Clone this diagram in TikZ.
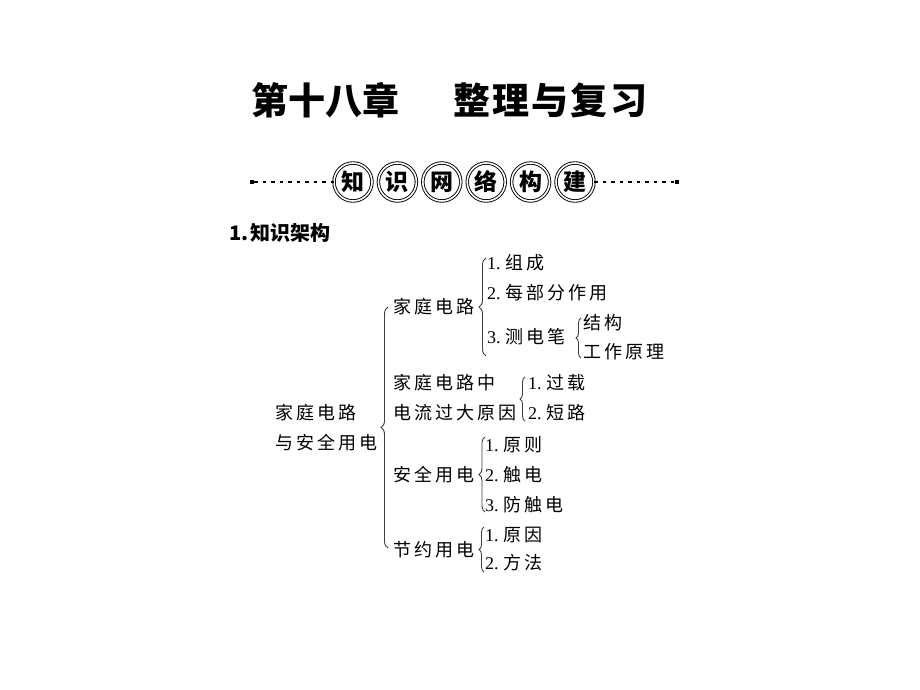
\documentclass[tikz,border=0pt]{standalone}
\usepackage{fontspec}
\setmainfont{Liberation Serif}
\newfontfamily\cjk{Noto Sans CJK SC}
\newfontfamily\cjksp[LetterSpace=17]{Noto Sans CJK SC}
\newfontfamily\cjkti[LetterSpace=6]{Noto Sans CJK SC}
\usetikzlibrary{decorations.pathreplacing}
\newcommand\itm[2]{{\rmfamily #1.}\hspace{5pt}{\cjksp #2}}
\tikzset{
  txt/.style={anchor=base west, inner sep=0pt, font=\fontsize{18}{20}\selectfont\cjksp},
  brc/.style={decorate, decoration={brace, amplitude=#1}, line width=0.9pt, draw=black!75},
  brc/.default=6pt,
  ring/.style={circle, minimum size=38pt, inner sep=0pt, draw, line width=0.9pt,
    double, double distance=1.6pt, font=\fontsize{23}{25}\selectfont\cjk\bfseries},
  endsq/.style={fill, minimum size=4.5pt, inner sep=0pt},
  dashln/.style={dash pattern=on 3.5pt off 5pt, line width=1.8pt},
  titletxt/.style={anchor=base west, inner sep=0pt, font=\fontsize{37}{40}\selectfont\cjk\bfseries},
}
\begin{document}
\begin{tikzpicture}[x=1pt,y=-1pt]
\fill[white] (0,0) rectangle (920,690);
\useasboundingbox (0,0) rectangle (920,690);

% title
\node[titletxt] (t1) at (251,114) {第十八章};
\node[titletxt] (t2) at (453,114) {\cjkti 整理与复习};

% banner
\node[ring] (k1) at (353,182) {知};
\node[ring] (k2) at (397.4,182) {识};
\node[ring] (k3) at (441.8,182) {网};
\node[ring] (k4) at (486.2,182) {络};
\node[ring] (k5) at (530.6,182) {构};
\node[ring] (k6) at (575,182) {建};
\node[endsq] (L1) at (252,182) {};
\node[endsq] (R1) at (677,182) {};
\draw[dashln] (L1) -- (k1);
\draw[dashln] (k6) -- (R1);

% heading
\node[anchor=base west, inner sep=0pt, font=\fontsize{20}{22}\selectfont\cjk\bfseries] (h) at (229,240.6) {1.\hspace{2pt}知识架构};

% tree
\node[txt] (root1) at (275,419.5) {家庭电路};
\node[txt] (root2) at (275,449.5) {与安全用电};

\node[txt] (a) at (393,313.5) {家庭电路};
\node[txt] (a1) at (487,269.5) {\itm{1}{组成}};
\node[txt] (a2) at (487,299.5) {\itm{2}{每部分作用}};
\node[txt] (a3) at (487,343.5) {\itm{3}{测电笔}};
\node[txt] (a31) at (583,329.5) {结构};
\node[txt] (a32) at (583,358.5) {工作原理};

\node[txt] (b1) at (393,389.5) {家庭电路中};
\node[txt] (b2) at (393,419.5) {电流过大原因};
\node[txt] (b21) at (528,389.5) {\itm{1}{过载}};
\node[txt] (b22) at (528,419.5) {\itm{2}{短路}};

\node[txt] (c) at (393,481.5) {安全用电};
\node[txt] (c1) at (485,451.5) {\itm{1}{原则}};
\node[txt] (c2) at (485,481.5) {\itm{2}{触电}};
\node[txt] (c3) at (485,511.5) {\itm{3}{防触电}};

\node[txt] (d) at (393,556.5) {节约用电};
\node[txt] (d1) at (485,541.5) {\itm{1}{原因}};
\node[txt] (d2) at (485,569.5) {\itm{2}{方法}};

% braces
\coordinate (B0t) at (388,307); \coordinate (B0b) at (388,548);
\coordinate (B1t) at (486,258); \coordinate (B1b) at (486,356);
\coordinate (B2t) at (581,318); \coordinate (B2b) at (581,358);
\coordinate (B3t) at (525,377); \coordinate (B3b) at (525,421);
\coordinate (B4t) at (485,437); \coordinate (B4b) at (485,512);
\coordinate (B5t) at (484,527); \coordinate (B5b) at (484,572);
\draw[brc=7pt] (B0b) -- (B0t);
\draw[brc=7pt] (B1b) -- (B1t);
\draw[brc=5pt] (B2b) -- (B2t);
\draw[brc=5pt] (B3b) -- (B3t);
\draw[brc=6pt] (B4b) -- (B4t);
\draw[brc=5pt] (B5b) -- (B5t);
\end{tikzpicture}
\end{document}
